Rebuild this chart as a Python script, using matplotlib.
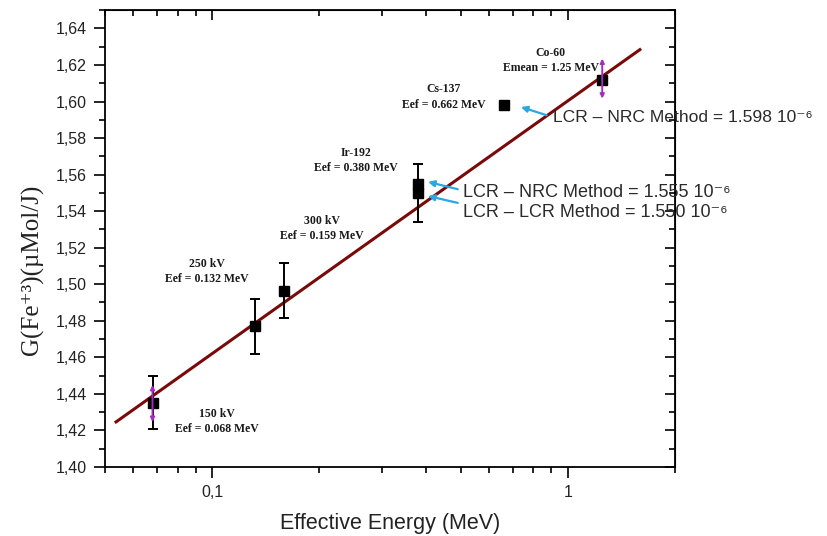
import matplotlib
matplotlib.use("Agg")
import matplotlib.pyplot as plt
from matplotlib.ticker import FixedLocator, FixedFormatter, MultipleLocator, FuncFormatter

# Measured G(Fe3+) values versus effective photon energy
energy = [0.068, 0.132, 0.159, 0.380, 0.380, 0.662, 1.25]
g_value = [1.435, 1.477, 1.4965, 1.555, 1.550, 1.598, 1.612]

# Uncertainty bars (black) on selected points
err_energy = [0.068, 0.132, 0.159, 0.380]
err_value = [1.435, 1.477, 1.4965, 1.550]
err_size = [0.0145, 0.015, 0.015, 0.016]

# Secondary uncertainty (purple arrows)
arr_energy = [0.068, 1.25]
arr_low = [1.4246, 1.6016]
arr_high = [1.4448, 1.6235]

# Linear fit in log(E)
fit_x = [0.0537, 1.595]
fit_y = [1.4246, 1.6284]

# Axis ticks
x_major = [0.1, 1]
x_major_labels = ["0,1", "1"]
x_minor = [0.05, 0.06, 0.07, 0.08, 0.09, 0.2, 0.3, 0.4, 0.5, 0.6, 0.7, 0.8, 0.9, 2]

source_labels = [
    "Co-60\nEmean = 1.25 MeV",
    "Cs-137\nEef = 0.662 MeV",
    "Ir-192\nEef = 0.380 MeV",
    "300 kV\nEef = 0.159 MeV",
    "250 kV\nEef = 0.132 MeV",
    "150 kV\nEef = 0.068 MeV",
]
method_labels = [
    "LCR – NRC Method = 1.598 10⁻⁶",
    "LCR – NRC Method = 1.555 10⁻⁶",
    "LCR – LCR Method = 1.550 10⁻⁶",
]

SANS = ["Liberation Sans", "DejaVu Sans"]
SERIF = ["Liberation Serif", "DejaVu Serif"]

fig = plt.figure(figsize=(8.27, 5.36), dpi=100)
ax = fig.add_axes([0.127, 0.129, 0.689, 0.852])

ax.set_xscale("log")
ax.set_xlim(0.05, 2)
ax.set_ylim(1.40, 1.65)

ax.plot(fit_x, fit_y, color="#7a0a0a", lw=2.2, zorder=2)

ax.errorbar(err_energy, err_value, yerr=err_size, fmt="none", ecolor="black",
            elinewidth=1.4, capsize=3.5, capthick=1.4, zorder=3)
ax.plot(energy, g_value, "s", color="black", markersize=7, zorder=4)

for xe, lo, hi in zip(arr_energy, arr_low, arr_high):
    ax.annotate("", xy=(xe, hi), xytext=(xe, lo),
                arrowprops=dict(arrowstyle="<|-|>", color="#a42cc0", lw=1.4,
                                mutation_scale=6, shrinkA=0, shrinkB=0), zorder=5)

# Source labels
src_pos = [(0.782, 0.890), (0.594, 0.810), (0.440, 0.670), (0.381, 0.522),
           (0.178, 0.428), (0.196, 0.100)]
for txt, (fx, fy) in zip(source_labels, src_pos):
    ax.text(fx, fy, txt, transform=ax.transAxes, ha="center", va="center",
            family=SERIF, fontsize=8.5, fontweight="bold", linespacing=1.35,
            color="#1a1a1a")

# Method annotations with arrows
meth_pos = [(0.786, 0.764), (0.628, 0.600), (0.628, 0.556)]
meth_size = [12.6, 13, 13]
for txt, (fx, fy), fs in zip(method_labels, meth_pos, meth_size):
    ax.text(fx, fy, txt, transform=ax.transAxes, ha="left", va="center",
            family=SANS, fontsize=fs, color="#2a2a2a")

arrow_pairs = [((0.730, 0.788), (0.775, 0.770)),
               ((0.567, 0.624), (0.619, 0.608)),
               ((0.567, 0.593), (0.619, 0.578))]
for head, tail in arrow_pairs:
    ax.annotate("", xy=head, xytext=tail, xycoords="axes fraction",
                textcoords="axes fraction",
                arrowprops=dict(arrowstyle="-|>", color="#2aa8e0", lw=1.6,
                                mutation_scale=9, shrinkA=0, shrinkB=0))

# Ticks
ax.xaxis.set_major_locator(FixedLocator(x_major))
ax.xaxis.set_major_formatter(FixedFormatter(x_major_labels))
ax.xaxis.set_minor_locator(FixedLocator(x_minor))
ax.xaxis.set_minor_formatter(FixedFormatter([""] * len(x_minor)))
ax.yaxis.set_major_locator(MultipleLocator(0.02))
ax.yaxis.set_minor_locator(MultipleLocator(0.01))
ax.yaxis.set_major_formatter(FuncFormatter(lambda v, p: f"{v:.2f}".replace(".", ",")))

ax.tick_params(which="both", direction="out", width=1.2, labelsize=11.5, pad=5)
ax.tick_params(which="major", length=8)
ax.tick_params(which="minor", length=4)
for lab in ax.get_xticklabels() + ax.get_yticklabels():
    lab.set_family(SANS)
    lab.set_color("#222222")

# Mirrored ticks on top/right, pointing inward
secx = ax.secondary_xaxis("top")
secx.set_xscale("log")
secx.xaxis.set_major_locator(FixedLocator(x_major))
secx.xaxis.set_minor_locator(FixedLocator(x_minor))
secx.tick_params(which="both", direction="in", labeltop=False, width=1.2)
secx.tick_params(which="major", length=7)
secx.tick_params(which="minor", length=4)
secy = ax.secondary_yaxis("right")
secy.yaxis.set_major_locator(MultipleLocator(0.02))
secy.yaxis.set_minor_locator(MultipleLocator(0.01))
secy.tick_params(which="both", direction="in", labelright=False, width=1.2)
secy.tick_params(which="major", length=7)
secy.tick_params(which="minor", length=4)

for sp in ax.spines.values():
    sp.set_linewidth(1.3)

ax.set_xlabel("Effective Energy (MeV)", family=SANS, fontsize=15.5, color="#222222")
ax.xaxis.set_label_coords(0.5, -0.102)
ax.set_ylabel("G(Fe⁺³)(µMol/J)", family=SERIF, fontsize=18, color="#222222")
ax.yaxis.set_label_coords(-0.107, 0.431)

fig.savefig("out.png", dpi=100)
